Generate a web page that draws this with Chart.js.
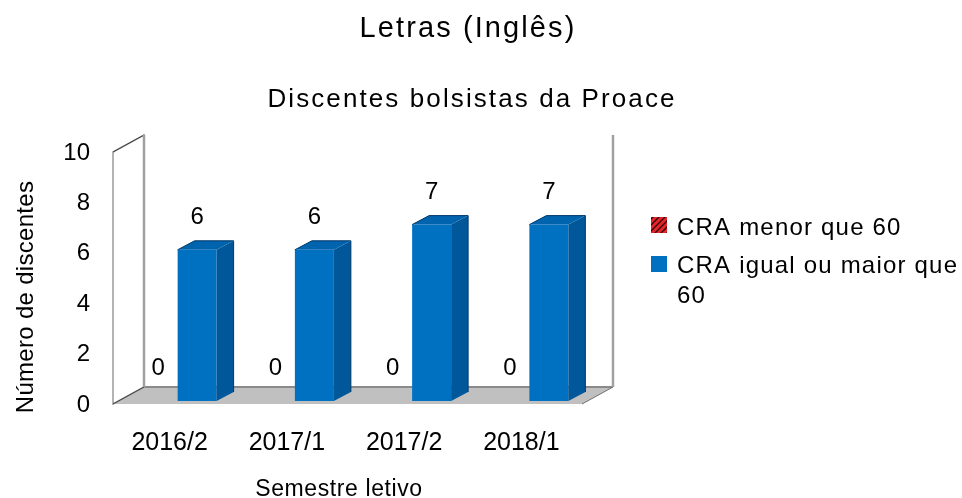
<!DOCTYPE html>
<html>
<head>
<meta charset="utf-8">
<script src="https://cdn.jsdelivr.net/npm/chart.js@4"></script>
<style>
  html, body { margin: 0; padding: 0; background: #fff; }
</style>
</head>
<body>
<canvas id="grafico" width="962" height="498"></canvas>
<script>
const semestres = ['2016/2', '2017/1', '2017/2', '2018/1'];
const craMenor60 = [0, 0, 0, 0];
const craMaior60 = [6, 6, 7, 7];
const nomesSeries = ['CRA menor que 60', 'CRA igual ou maior que 60'];
const yMax = 10;
const yPasso = 2;

const titulo = 'Letras (Inglês)';
const subtitulo = 'Discentes bolsistas da Proace';
const tituloX = 'Semestre letivo';
const tituloY = 'Número de discentes';

const FONTE = '"Liberation Sans", Arial, sans-serif';
const AZUL = '#0070c0', AZUL_LADO = '#00589a', AZUL_TOPO = '#0063ad';
const VERMELHO = '#e3262b';

// 3D offsets (px) relative to the plane where the bars stand
const frente = { dx: -6, dy: 3 };
const fundo = { dx: 25, dy: -14 };
const prof = { dx: 17, dy: -9 };

const canvas = document.getElementById('grafico');
const ctx = canvas.getContext('2d');

function criaHachura() {
    const c = document.createElement('canvas');
    c.width = 6; c.height = 6;
    const g = c.getContext('2d');
    g.fillStyle = VERMELHO;
    g.fillRect(0, 0, 6, 6);
    g.strokeStyle = '#3a0000';
    g.lineWidth = 1.3;
    g.beginPath();
    g.moveTo(0, 6); g.lineTo(6, 0);
    g.moveTo(-3, 3); g.lineTo(3, -3);
    g.moveTo(3, 9); g.lineTo(9, 3);
    g.stroke();
    return ctx.createPattern(c, 'repeat');
}
const hachura = criaHachura();

function texto(c, str, x, y, tam, espaco, align) {
    c.save();
    c.font = tam + 'px ' + FONTE;
    c.fillStyle = '#000';
    c.textAlign = align || 'center';
    c.textBaseline = 'alphabetic';
    if ('letterSpacing' in c) c.letterSpacing = espaco + 'px';
    c.fillText(str, x, y);
    c.restore();
}

function quebra(c, str, maxW) {
    const palavras = str.split(' ');
    const linhas = [];
    let atual = '';
    palavras.forEach(p => {
        const teste = atual ? atual + ' ' + p : p;
        if (c.measureText(teste).width > maxW && atual) {
            linhas.push(atual);
            atual = p;
        } else {
            atual = teste;
        }
    });
    linhas.push(atual);
    return linhas;
}

const caixa3d = {
    id: 'caixa3d',
    beforeDatasetsDraw(chart) {
        const c = chart.ctx, a = chart.chartArea;
        const fl = a.left + frente.dx, fr = a.right + frente.dx;
        const ft = a.top + frente.dy, fb = a.bottom + frente.dy;
        const bl = a.left + fundo.dx, br = a.right + fundo.dx;
        const bt = a.top + fundo.dy, bb = a.bottom + fundo.dy;
        c.save();
        // floor
        c.fillStyle = '#c0c0c0';
        c.beginPath();
        c.moveTo(fl, fb); c.lineTo(fr, fb); c.lineTo(br, bb); c.lineTo(bl, bb);
        c.closePath();
        c.fill();
        c.strokeStyle = '#8a8a8a';
        c.lineWidth = 2;
        c.beginPath(); c.moveTo(bl, bb); c.lineTo(br, bb); c.stroke();
        c.lineWidth = 1;
        c.strokeStyle = '#707070';
        c.beginPath(); c.moveTo(fr, fb); c.lineTo(br, bb); c.stroke();
        // left wall
        c.fillStyle = '#fff';
        c.strokeStyle = '#9a9a9a';
        c.lineWidth = 1.5;
        c.beginPath();
        c.moveTo(fl, ft); c.lineTo(bl, bt); c.lineTo(bl, bb); c.lineTo(fl, fb);
        c.closePath();
        c.fill();
        c.stroke();
        c.strokeStyle = '#404040';
        c.lineWidth = 1;
        c.beginPath(); c.moveTo(fl, ft); c.lineTo(bl, bt); c.stroke();
        c.beginPath(); c.moveTo(fl, fb); c.lineTo(bl, bb); c.stroke();
        c.strokeStyle = '#a0a0a0';
        c.lineWidth = 2.5;
        c.beginPath(); c.moveTo(bl, bt); c.lineTo(bl, bb); c.stroke();
        // right edge of back wall
        c.beginPath(); c.moveTo(br, bt); c.lineTo(br, bb); c.stroke();
        c.restore();
    },
    afterDatasetsDraw(chart) {
        const c = chart.ctx;
        c.save();
        chart.data.datasets.forEach((ds, i) => {
            const meta = chart.getDatasetMeta(i);
            meta.data.forEach((el, j) => {
                const l = el.x - el.width / 2, r = el.x + el.width / 2;
                const t = el.y, b = el.base;
                if (b - t > 0.5) {
                    // side face
                    c.fillStyle = AZUL_LADO;
                    c.beginPath();
                    c.moveTo(r, t); c.lineTo(r + prof.dx, t + prof.dy);
                    c.lineTo(r + prof.dx, b + prof.dy); c.lineTo(r, b);
                    c.closePath();
                    c.fill();
                    // top face
                    c.fillStyle = AZUL_TOPO;
                    c.beginPath();
                    c.moveTo(l, t); c.lineTo(r, t);
                    c.lineTo(r + prof.dx, t + prof.dy); c.lineTo(l + prof.dx, t + prof.dy);
                    c.closePath();
                    c.fill();
                    c.strokeStyle = '#00386a';
                    c.lineWidth = 1;
                    c.beginPath();
                    c.moveTo(l, t); c.lineTo(l + prof.dx, t + prof.dy);
                    c.lineTo(r + prof.dx, t + prof.dy); c.lineTo(r + prof.dx, b + prof.dy);
                    c.stroke();
                }
                texto(c, String(ds.data[j]), el.x, t - 26, 24, 0);
            });
        });
        c.restore();
    },
    afterDraw(chart) {
        const c = chart.ctx;
        texto(c, titulo, 468, 37, 29, 2.1);
        texto(c, subtitulo, 472, 107, 26, 2.1);
        texto(c, tituloX, 339, 496, 23, 0.6);
        c.save();
        c.translate(33, 297);
        c.rotate(-Math.PI / 2);
        texto(c, tituloY, 0, 0, 24, 0.3);
        c.restore();

        // legend
        const cores = [hachura, AZUL];
        const quadY = [217, 256];
        c.save();
        c.font = '24px ' + FONTE;
        if ('letterSpacing' in c) c.letterSpacing = '1.2px';
        let base = 235;
        nomesSeries.forEach((nome, i) => {
            c.fillStyle = cores[i];
            c.fillRect(651, quadY[i], 16, 16);
            const linhas = quebra(c, nome, 290);
            c.fillStyle = '#000';
            c.textAlign = 'left';
            linhas.forEach((ln, k) => c.fillText(ln, 677, base + k * 30));
            base += 38 + (linhas.length - 1) * 30;
        });
        c.restore();
    }
};

new Chart(ctx, {
    type: 'bar',
    data: {
        labels: semestres,
        datasets: [
            { label: nomesSeries[0], data: craMenor60, backgroundColor: hachura, borderWidth: 0 },
            { label: nomesSeries[1], data: craMaior60, backgroundColor: AZUL, borderWidth: 0 }
        ]
    },
    options: {
        responsive: false,
        animation: false,
        devicePixelRatio: 1,
        categoryPercentage: 0.665,
        barPercentage: 1,
        layout: { padding: { top: 149, right: 374, bottom: 0, left: 0 } },
        plugins: {
            legend: { display: false },
            tooltip: { enabled: false },
            title: { display: false }
        },
        scales: {
            x: {
                grid: { display: false, drawTicks: false },
                border: { display: false },
                ticks: {
                    color: '#000',
                    font: { family: FONTE, size: 25 },
                    padding: 27,
                    labelOffset: -8,
                    maxRotation: 0
                },
                afterFit(s) { s.height = 97; }
            },
            y: {
                min: 0,
                max: yMax,
                grid: { display: false, drawTicks: false },
                border: { display: false },
                ticks: {
                    stepSize: yPasso,
                    color: '#000',
                    font: { family: FONTE, size: 24 },
                    padding: 29,
                    labelOffset: 4
                },
                afterFit(s) { s.width = 119; }
            }
        }
    },
    plugins: [caixa3d]
});
</script>
</body>
</html>
